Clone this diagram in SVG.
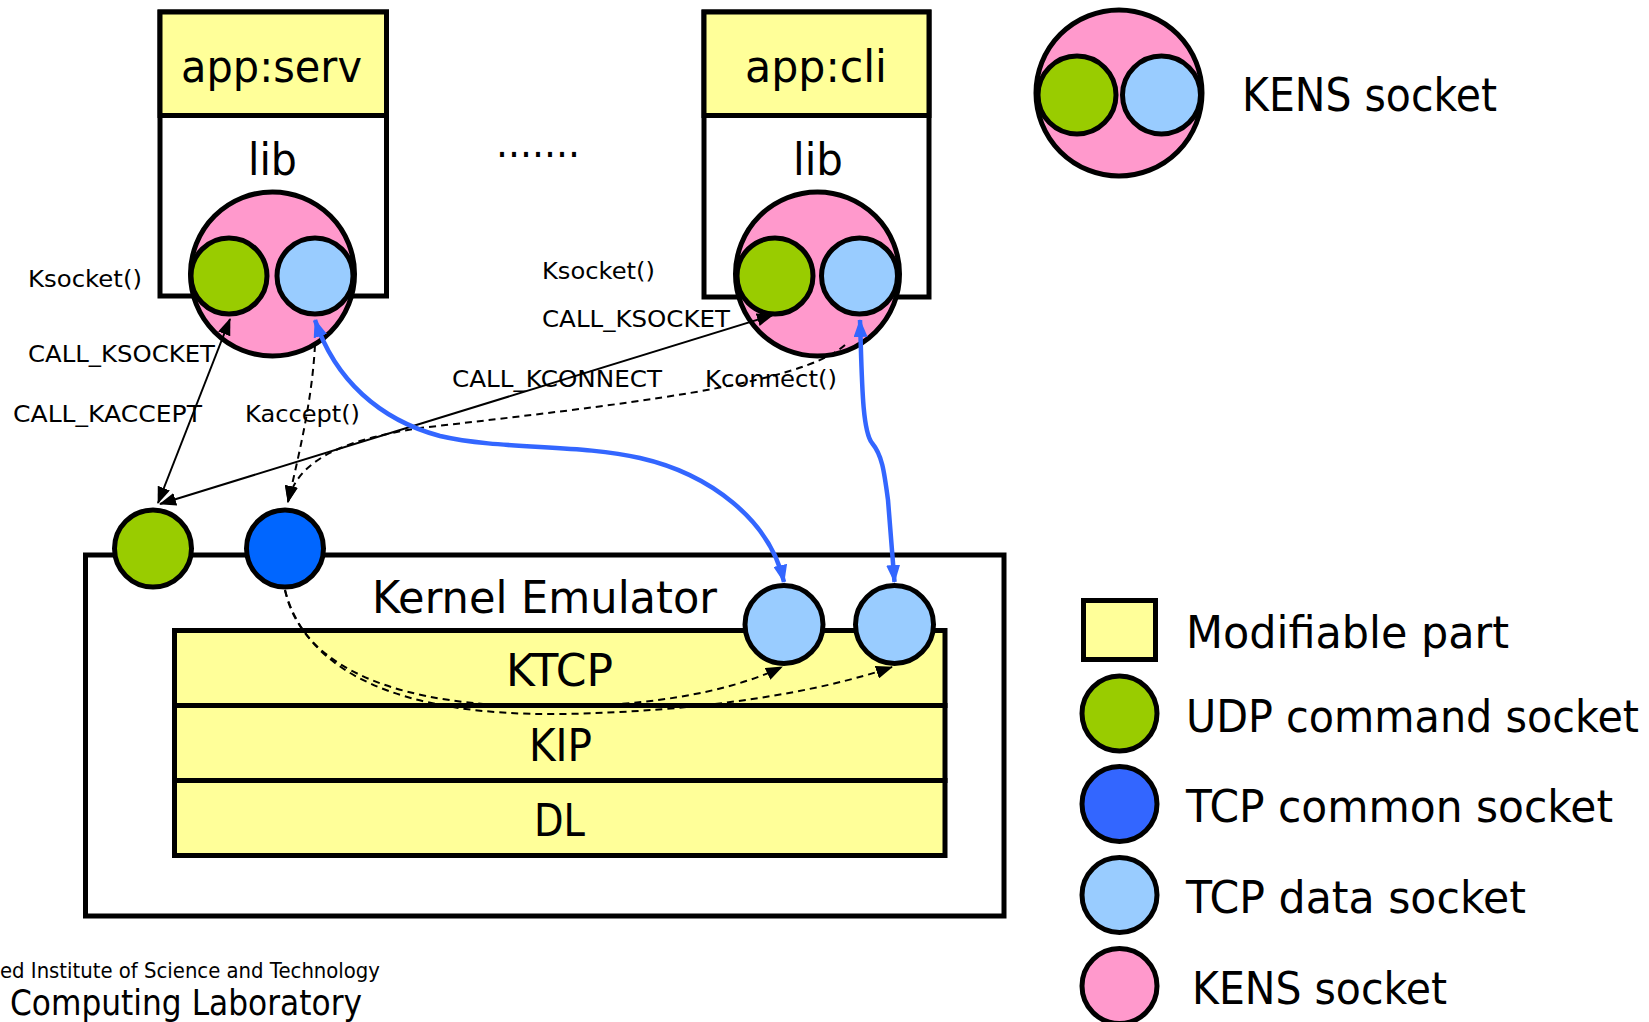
<svg xmlns="http://www.w3.org/2000/svg" width="1649" height="1022" viewBox="0 0 1649 1022">
  <style>
    text { font-family: "DejaVu Sans", "Liberation Sans", sans-serif; fill: #000; }
    .big { font-size: 44px; }
    .small { font-size: 23px; }
    .box { stroke: #000; stroke-width: 5; }
    .yellow { fill: #FFFF99; }
    .white { fill: #FFFFFF; }
    .sock { stroke: #000; stroke-width: 5; }
    .kens { fill: #FF99CC; }
    .udp { fill: #99CC00; }
    .tcpdata { fill: #99CCFF; }
    .tcpcommon { fill: #0066FF; }
    .tcpcommon-legend { fill: #3366FF; }
    .solid { fill: none; stroke: #000; stroke-width: 2; }
    .dash { fill: none; stroke: #000; stroke-width: 2; stroke-dasharray: 7 5; }
    .blueline { fill: none; stroke: #3366FF; stroke-width: 4.5; }
  </style>
  <defs>
    <marker id="arrowBlack" viewBox="0 0 17 13" refX="16" refY="6.5" markerWidth="17" markerHeight="13" markerUnits="userSpaceOnUse" orient="auto-start-reverse">
      <path d="M0,0 L17,6.5 L0,13 Z" fill="#000"/>
    </marker>
    <marker id="arrowBlue" viewBox="0 0 18 14" refX="17" refY="7" markerWidth="18" markerHeight="14" markerUnits="userSpaceOnUse" orient="auto-start-reverse">
      <path d="M0,0 L18,7 L0,14 Z" fill="#3366FF"/>
    </marker>
  </defs>

  <!-- server application process -->
  <g id="app-serv">
    <rect class="box white" x="160" y="12" width="226.5" height="284"/>
    <rect class="box yellow" x="160" y="12" width="226.5" height="103.5"/>
    <text class="big" x="181" y="82" textLength="181" lengthAdjust="spacingAndGlyphs">app:serv</text>
    <text class="big" x="248" y="175" textLength="49" lengthAdjust="spacingAndGlyphs">lib</text>
  </g>
  <g id="serv-kens-socket">
    <circle class="sock kens" cx="272.5" cy="274" r="82"/>
    <circle class="sock udp" cx="229" cy="276" r="38"/>
    <circle class="sock tcpdata" cx="315" cy="276" r="38"/>
  </g>

  <!-- client application process -->
  <g id="app-cli">
    <rect class="box white" x="704" y="12" width="225" height="285"/>
    <rect class="box yellow" x="704" y="12" width="225" height="103.5"/>
    <text class="big" x="745" y="82" textLength="142" lengthAdjust="spacingAndGlyphs">app:cli</text>
    <text class="big" x="793" y="175" textLength="50" lengthAdjust="spacingAndGlyphs">lib</text>
  </g>
  <g id="cli-kens-socket">
    <circle class="sock kens" cx="817.5" cy="274" r="82"/>
    <circle class="sock udp" cx="775" cy="276" r="38"/>
    <circle class="sock tcpdata" cx="859.5" cy="276" r="38"/>
  </g>

  <g id="more-apps">
    <text x="496" y="157" style="font-size:40px" textLength="84" lengthAdjust="spacingAndGlyphs">.......</text>
  </g>

  <!-- kernel emulator with protocol layers -->
  <g id="kernel-emulator">
    <rect class="box white" x="85.5" y="555" width="918.5" height="361"/>
    <text class="big" x="372" y="613" textLength="345" lengthAdjust="spacingAndGlyphs">Kernel Emulator</text>
  </g>
  <g id="ktcp">
    <rect class="box yellow" x="174.5" y="630.5" width="770.5" height="75"/>
    <text class="big" x="506" y="686" textLength="107" lengthAdjust="spacingAndGlyphs">KTCP</text>
  </g>
  <g id="kip">
    <rect class="box yellow" x="174.5" y="705.5" width="770.5" height="75"/>
    <text class="big" x="529" y="761" textLength="63" lengthAdjust="spacingAndGlyphs">KIP</text>
  </g>
  <g id="dl">
    <rect class="box yellow" x="174.5" y="780.5" width="770.5" height="75"/>
    <text class="big" x="534" y="836" textLength="51" lengthAdjust="spacingAndGlyphs">DL</text>
  </g>

  <!-- kernel-side sockets -->
  <g id="kernel-udp-socket">
    <circle class="sock udp" cx="153" cy="548.5" r="38.5"/>
  </g>
  <g id="kernel-tcp-common-socket">
    <circle class="sock tcpcommon" cx="285" cy="548.5" r="38.5"/>
  </g>
  <g id="kernel-tcp-data-socket-1">
    <circle class="sock tcpdata" cx="784" cy="624.5" r="39"/>
  </g>
  <g id="kernel-tcp-data-socket-2">
    <circle class="sock tcpdata" cx="894.5" cy="624.5" r="39"/>
  </g>

  <!-- connectors -->
  <g id="connectors">
    <path class="solid" d="M158,503 L230,319" marker-start="url(#arrowBlack)" marker-end="url(#arrowBlack)"/>
    <path class="solid" d="M160,504 L773,315" marker-start="url(#arrowBlack)" marker-end="url(#arrowBlack)"/>
    <path class="dash" d="M315,345 C312,400 300,450 288,502" marker-end="url(#arrowBlack)"/>
    <path class="dash" d="M845,345 C800,385 620,405 420,428 C340,440 296,462 288,502" marker-end="url(#arrowBlack)"/>
    <path class="dash" d="M285,590 C300,660 380,702 520,706 C640,710 730,692 782,667" marker-end="url(#arrowBlack)"/>
    <path class="dash" d="M285,590 C306,672 400,716 560,714 C700,712 820,692 892,667" marker-end="url(#arrowBlack)"/>
    <path class="blueline" d="M315,320 C335,380 380,420 440,436 C500,450 580,444 640,458 C710,474 770,520 784,582" marker-start="url(#arrowBlue)" marker-end="url(#arrowBlue)"/>
    <path class="blueline" d="M860,320 C862,380 862,430 872,443 C882,455 884,470 888,500 L894.5,582" marker-start="url(#arrowBlue)" marker-end="url(#arrowBlue)"/>
  </g>

  <!-- call labels -->
  <g id="labels">
    <text class="small" x="28" y="287" textLength="114" lengthAdjust="spacingAndGlyphs">Ksocket()</text>
    <text class="small" x="28" y="362" textLength="187" lengthAdjust="spacingAndGlyphs">CALL_KSOCKET</text>
    <text class="small" x="13" y="422" textLength="189" lengthAdjust="spacingAndGlyphs">CALL_KACCEPT</text>
    <text class="small" x="245" y="422" textLength="115" lengthAdjust="spacingAndGlyphs">Kaccept()</text>
    <text class="small" x="542" y="279" textLength="113" lengthAdjust="spacingAndGlyphs">Ksocket()</text>
    <text class="small" x="542" y="327" textLength="188" lengthAdjust="spacingAndGlyphs">CALL_KSOCKET</text>
    <text class="small" x="452" y="387" textLength="210" lengthAdjust="spacingAndGlyphs">CALL_KCONNECT</text>
    <text class="small" x="705" y="387" textLength="132" lengthAdjust="spacingAndGlyphs">Kconnect()</text>
  </g>

  <!-- KENS socket key -->
  <g id="kens-socket-key">
    <circle class="sock kens" cx="1119" cy="93" r="83"/>
    <circle class="sock udp" cx="1077" cy="95" r="39"/>
    <circle class="sock tcpdata" cx="1161.5" cy="95" r="39"/>
    <text class="big" style="font-size:46px" x="1242" y="111" textLength="255" lengthAdjust="spacingAndGlyphs">KENS socket</text>
  </g>

  <!-- legend -->
  <g id="legend">
    <rect class="box yellow" x="1083.5" y="600.5" width="72" height="59"/>
    <text class="big" x="1186" y="648" textLength="323" lengthAdjust="spacingAndGlyphs">Modifiable part</text>
    <circle class="sock udp" cx="1119.5" cy="713.5" r="37.5"/>
    <text class="big" x="1186" y="732" textLength="453" lengthAdjust="spacingAndGlyphs">UDP command socket</text>
    <circle class="sock tcpcommon-legend" cx="1119.5" cy="804" r="37.5"/>
    <text class="big" x="1186" y="822" textLength="427" lengthAdjust="spacingAndGlyphs">TCP common socket</text>
    <circle class="sock tcpdata" cx="1119.5" cy="895" r="37.5"/>
    <text class="big" x="1186" y="913" textLength="340" lengthAdjust="spacingAndGlyphs">TCP data socket</text>
    <circle class="sock kens" cx="1119.5" cy="986" r="37.5"/>
    <text class="big" x="1192" y="1004" textLength="255" lengthAdjust="spacingAndGlyphs">KENS socket</text>
  </g>

  <!-- footer -->
  <g id="footer">
    <text x="0" y="978" style="font-size:22px" textLength="380" lengthAdjust="spacingAndGlyphs">ed Institute of Science and Technology</text>
    <text x="10" y="1015" style="font-size:36px" textLength="352" lengthAdjust="spacingAndGlyphs">Computing Laboratory</text>
  </g>
</svg>
